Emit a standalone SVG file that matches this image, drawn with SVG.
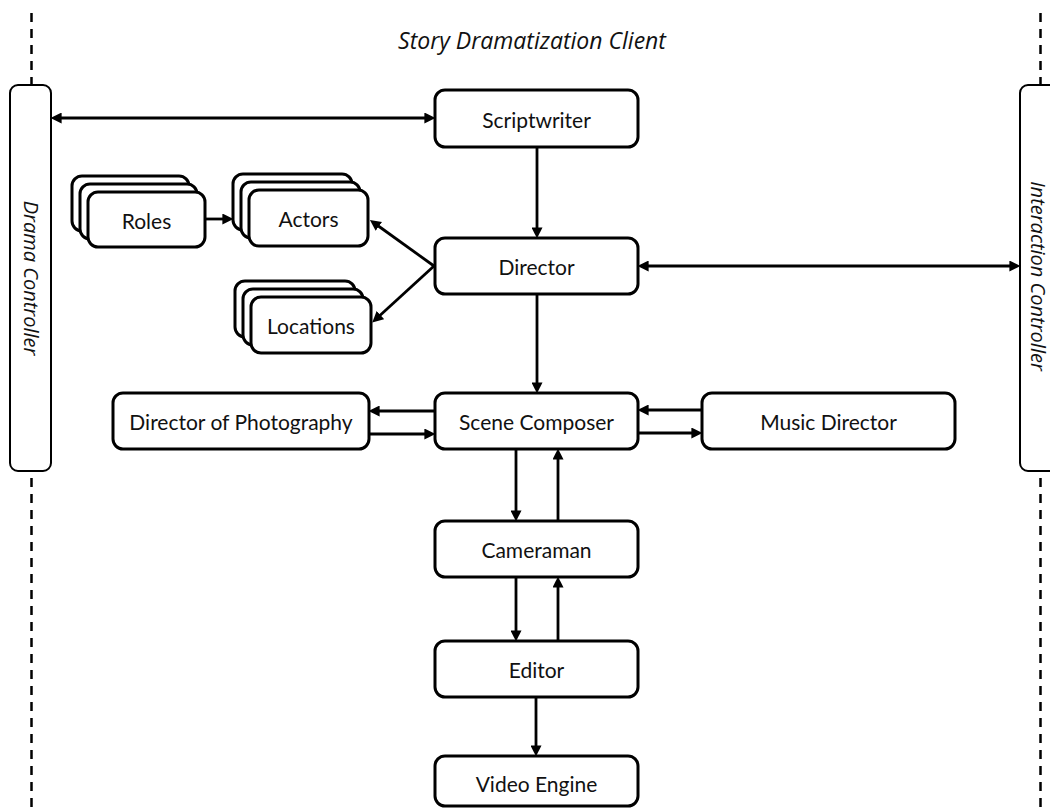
<svg xmlns="http://www.w3.org/2000/svg" width="1050" height="808" viewBox="0 0 1050 808">
  <defs>
    <marker id="arrow" viewBox="0 0 10 10" refX="6" refY="5" markerWidth="11" markerHeight="11" markerUnits="userSpaceOnUse" orient="auto-start-reverse">
      <path d="M0,0 L10,5 L0,10 z" fill="#000"/>
    </marker>
    <style>
      .box { fill: #fff; stroke: #000; stroke-width: 3; }
      .ctrl { fill: #fff; stroke: #000; stroke-width: 2; }
      .lbl { font-family: Lato, "Liberation Sans", sans-serif; font-size: 21px; fill: #111; text-anchor: middle; dominant-baseline: central; }
      .ital { font-family: "Open Sans", "Noto Sans", sans-serif; font-style: italic; font-size: 20px; }
      .edge { stroke: #000; stroke-width: 2.8; fill: none; marker-end: url(#arrow); }
      .both { marker-start: url(#arrow); }
      .lifeline { stroke: #000; stroke-width: 2.5; stroke-dasharray: 9 7; fill: none; }
    </style>
  </defs>

  <rect width="1050" height="808" fill="#fff"/>

  <!-- client title -->
  <text class="lbl ital" x="532" y="40" style="font-size:23px">Story Dramatization Client</text>

  <!-- lifelines of the two controllers -->
  <g id="lifelines">
    <line class="lifeline" x1="31.5" y1="13" x2="31.5" y2="85"/>
    <line class="lifeline" x1="31.5" y1="478" x2="31.5" y2="808"/>
    <line class="lifeline" x1="1040.5" y1="13" x2="1040.5" y2="85"/>
    <line class="lifeline" x1="1040.5" y1="478" x2="1040.5" y2="808"/>
  </g>

  <g id="drama-controller">
    <rect class="ctrl" x="10" y="85" width="41" height="386" rx="8"/>
    <text class="lbl ital" transform="translate(31,278) rotate(90)">Drama Controller</text>
  </g>

  <g id="interaction-controller">
    <rect class="ctrl" x="1020" y="85" width="45" height="386" rx="8"/>
    <text class="lbl ital" transform="translate(1038,276) rotate(90)">Interaction Controller</text>
  </g>

  <g id="scriptwriter">
    <rect class="box" x="435" y="90" width="203" height="57" rx="10"/>
    <text class="lbl" x="536.5" y="119">Scriptwriter</text>
  </g>

  <g id="roles">
    <rect class="box" x="72" y="176" width="117" height="55" rx="10"/>
    <rect class="box" x="80" y="184" width="117" height="55" rx="10"/>
    <rect class="box" x="88" y="192" width="117" height="55" rx="10"/>
    <text class="lbl" x="146.5" y="220">Roles</text>
  </g>

  <g id="actors">
    <rect class="box" x="233" y="174" width="119" height="56" rx="10"/>
    <rect class="box" x="241" y="182" width="119" height="56" rx="10"/>
    <rect class="box" x="249" y="190" width="119" height="56" rx="10"/>
    <text class="lbl" x="308.5" y="218.5">Actors</text>
  </g>

  <g id="locations">
    <rect class="box" x="235" y="281" width="120" height="56" rx="10"/>
    <rect class="box" x="243" y="289" width="120" height="56" rx="10"/>
    <rect class="box" x="251" y="297" width="120" height="56" rx="10"/>
    <text class="lbl" x="311" y="325.5">Locations</text>
  </g>

  <g id="director">
    <rect class="box" x="435" y="238" width="203" height="56" rx="10"/>
    <text class="lbl" x="536.5" y="266.5">Director</text>
  </g>

  <g id="director-of-photography">
    <rect class="box" x="113" y="393" width="256" height="56" rx="10"/>
    <text class="lbl" x="241" y="421.5">Director of Photography</text>
  </g>

  <g id="scene-composer">
    <rect class="box" x="435" y="393" width="203" height="56" rx="10"/>
    <text class="lbl" x="536.5" y="421.5">Scene Composer</text>
  </g>

  <g id="music-director">
    <rect class="box" x="702" y="393" width="253" height="56" rx="10"/>
    <text class="lbl" x="828.5" y="421.5">Music Director</text>
  </g>

  <g id="cameraman">
    <rect class="box" x="435" y="521" width="203" height="56" rx="10"/>
    <text class="lbl" x="536.5" y="549.5">Cameraman</text>
  </g>

  <g id="editor">
    <rect class="box" x="435" y="641" width="203" height="56" rx="10"/>
    <text class="lbl" x="536.5" y="669.5">Editor</text>
  </g>

  <g id="video-engine">
    <rect class="box" x="435" y="756" width="203" height="50" rx="10"/>
    <text class="lbl" x="536.5" y="783">Video Engine</text>
  </g>

  <g id="connectors">
    <!-- controllers -->
    <line class="edge both" x1="55" y1="118" x2="431" y2="118"/>
    <line class="edge both" x1="642" y1="266" x2="1016" y2="266"/>
    <!-- main chain -->
    <line class="edge" x1="537" y1="147" x2="537" y2="234"/>
    <line class="edge" x1="537" y1="294" x2="537" y2="389"/>
    <!-- casting -->
    <line class="edge" x1="205" y1="219" x2="229" y2="219"/>
    <line class="edge" x1="434" y1="266" x2="373.5" y2="222.5"/>
    <line class="edge" x1="434" y1="266" x2="375.5" y2="319.5"/>
    <!-- scene composer exchanges -->
    <line class="edge" x1="435" y1="411" x2="373" y2="411"/>
    <line class="edge" x1="369" y1="434" x2="431" y2="434"/>
    <line class="edge" x1="702" y1="410" x2="642" y2="410"/>
    <line class="edge" x1="638" y1="433" x2="698" y2="433"/>
    <line class="edge" x1="516" y1="449" x2="516" y2="517"/>
    <line class="edge" x1="558" y1="521" x2="558" y2="453"/>
    <line class="edge" x1="516" y1="577" x2="516" y2="637"/>
    <line class="edge" x1="558" y1="641" x2="558" y2="581"/>
    <line class="edge" x1="536" y1="697" x2="536" y2="752"/>
  </g>
</svg>
